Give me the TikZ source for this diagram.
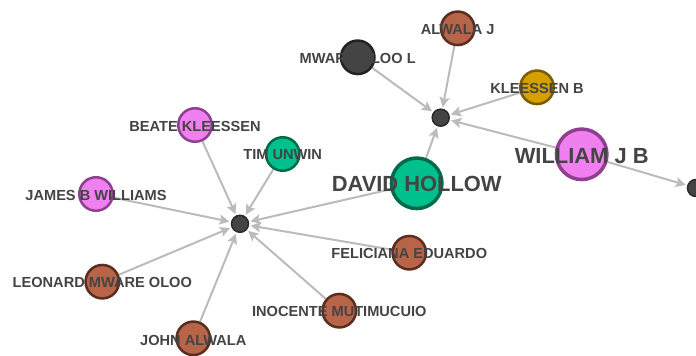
\documentclass[tikz,border=0pt]{standalone}
\usepackage{fontspec}
\setmainfont{Liberation Sans}
\usetikzlibrary{arrows.meta,backgrounds}
\definecolor{edgec}{HTML}{BBBBBB}
\definecolor{txt}{HTML}{444444}
\definecolor{hubf}{HTML}{444444}
\definecolor{hubd}{HTML}{2A2A2A}
\definecolor{brownf}{HTML}{B86448}
\definecolor{brownd}{HTML}{5A2E1E}
\definecolor{pinkf}{HTML}{F080F0}
\definecolor{pinkd}{HTML}{8E3F8E}
\definecolor{tealf}{HTML}{00C18E}
\definecolor{teald}{HTML}{006B4A}
\definecolor{goldf}{HTML}{D4A000}
\definecolor{goldd}{HTML}{7A5C00}
\definecolor{darkf}{HTML}{444444}
\definecolor{darkd}{HTML}{222222}
\tikzset{
  hub/.style={circle,fill=hubf,draw=hubd,line width=1.5pt,minimum size=17pt,inner sep=0pt},
  small/.style={circle,line width=2.5pt,minimum size=33.5pt,inner sep=0pt},
  big/.style={circle,line width=3.5pt,minimum size=50.5pt,inner sep=0pt},
  brownn/.style={small,fill=brownf,draw=brownd},
  pinkn/.style={small,fill=pinkf,draw=pinkd},
  tealn/.style={small,fill=tealf,draw=teald},
  goldn/.style={small,fill=goldf,draw=goldd},
  darkn/.style={small,fill=darkf,draw=darkd},
  lbl/.style={text=txt,font=\fontsize{14.6}{15}\selectfont\bfseries,inner sep=0pt},
  biglbl/.style={text=txt,font=\fontsize{21.9}{22}\selectfont\bfseries,inner sep=0pt},
  edge/.style={draw=edgec,line width=2pt,-{Stealth[length=10pt,width=10pt,inset=2pt]},shorten >=1.5pt}
}
\begin{document}
\begin{tikzpicture}[x=1pt,y=-1pt]
\useasboundingbox (0,0) rectangle (696,356);
% hubs
\node[hub] (h1) at (440.7,117.7) {};
\node[hub] (h2) at (240,223.8) {};
\node[hub] (h3) at (696,188) {};
% people
\node[brownn] (alwalaj) at (457.7,28.3) {};
\node[darkn] (mware) at (357.7,57.3) {};
\node[goldn] (kleessenb) at (537,87.3) {};
\node[pinkn,big] (william) at (581.7,154.3) {};
\node[tealn,big] (david) at (416.7,183.3) {};
\node[tealn] (tim) at (282.7,154) {};
\node[pinkn] (beate) at (195,125) {};
\node[pinkn] (james) at (96,194) {};
\node[brownn] (leonard) at (102.3,281.7) {};
\node[brownn] (john) at (193.3,338.3) {};
\node[brownn] (inocente) at (339.3,310.7) {};
\node[brownn] (feliciana) at (409.3,252.7) {};
% edges
\begin{pgfonlayer}{background}
\foreach \s/\t in {alwalaj/h1,mware/h1,kleessenb/h1,william/h1,david/h1,william/h3,
  david/h2,tim/h2,beate/h2,james/h2,leonard/h2,john/h2,inocente/h2,feliciana/h2}{
  \path[edge] (\s) -- (\t);
}
\end{pgfonlayer}
% labels
\node[lbl] (lalwalaj) at ([yshift=-1pt]alwalaj) {ALWALA J};
\node[lbl] (lmware) at ([yshift=-1.5pt]mware) {MWARE OLOO L};
\node[lbl] (lkleessenb) at ([yshift=-1pt]kleessenb) {KLEESSEN B};
\node[biglbl] (lwilliam) at ([yshift=-1.5pt]william) {WILLIAM J B};
\node[biglbl] (ldavid) at ([yshift=-1pt]david) {DAVID HOLLOW};
\node[lbl] (ltim) at ([yshift=-1pt]tim) {TIM UNWIN};
\node[lbl] (lbeate) at ([yshift=-1pt]beate) {BEATE KLEESSEN};
\node[lbl] (ljames) at ([yshift=-1pt]james) {JAMES B WILLIAMS};
\node[lbl] (lleonard) at ([yshift=-1pt]leonard) {LEONARD MWARE OLOO};
\node[lbl] (ljohn) at ([yshift=-2pt]john) {JOHN ALWALA};
\node[lbl] (linocente) at ([yshift=-1pt]inocente) {INOCENTE MUTIMUCUIO};
\node[lbl] (lfeliciana) at ([yshift=-1pt]feliciana) {FELICIANA EDUARDO};
\end{tikzpicture}
\end{document}
